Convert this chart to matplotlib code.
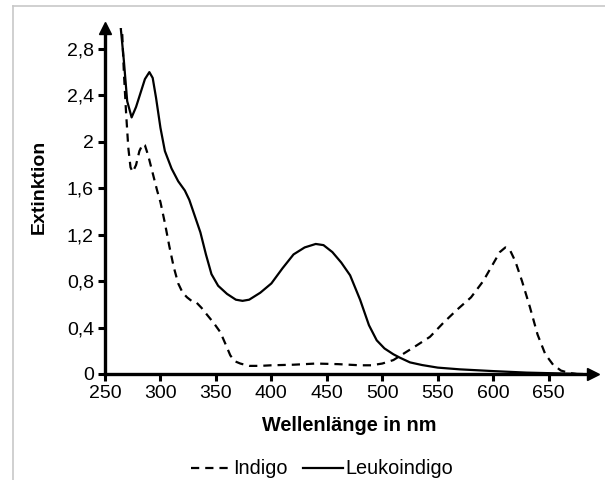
import matplotlib
matplotlib.use("Agg")
import matplotlib.pyplot as plt
from matplotlib.lines import Line2D

plt.rcParams['font.family'] = ['Liberation Sans', 'DejaVu Sans']

# Indigo (dashed)
indigo_nm = [265, 267, 269, 271, 273, 275, 278, 281, 284, 286, 289, 293, 297, 300,
             304, 308, 312, 316, 320, 324, 328, 332, 337, 342, 348, 354, 359, 363,
             367, 372, 380, 390, 400, 420, 440, 460, 480, 490, 500, 510, 520, 530,
             543, 555, 567, 580, 591, 600, 606, 611, 615, 620, 626, 633, 640, 647,
             654, 661, 668, 675]
indigo_ext = [3.05, 2.6, 2.25, 1.95, 1.78, 1.74, 1.80, 1.92, 1.98, 1.97, 1.88, 1.73,
              1.58, 1.48, 1.30, 1.10, 0.92, 0.78, 0.70, 0.66, 0.63, 0.62, 0.57, 0.51,
              0.44, 0.36, 0.25, 0.16, 0.11, 0.09, 0.07, 0.07, 0.075, 0.08, 0.09,
              0.085, 0.075, 0.075, 0.09, 0.12, 0.18, 0.24, 0.32, 0.44, 0.55, 0.66,
              0.80, 0.95, 1.05, 1.09, 1.07, 0.97, 0.80, 0.58, 0.34, 0.17, 0.08, 0.03,
              0.01, 0.0]

# Leukoindigo (solid)
leuko_nm = [263.5, 267, 270, 274, 278, 282, 286, 290, 293, 296, 300, 304, 310, 316,
            322, 326, 331, 336, 341, 346, 352, 360, 368, 374, 380, 390, 400, 410,
            420, 430, 440, 447, 455, 463, 471, 480, 488, 495, 502, 510, 516, 525,
            536, 550, 570, 600, 630, 660, 680]
leuko_ext = [3.05, 2.7, 2.35, 2.21, 2.30, 2.42, 2.54, 2.60, 2.55, 2.38, 2.12, 1.92,
             1.77, 1.66, 1.58, 1.50, 1.36, 1.22, 1.03, 0.86, 0.76, 0.69, 0.64, 0.63,
             0.64, 0.70, 0.78, 0.91, 1.03, 1.09, 1.12, 1.11, 1.05, 0.96, 0.85, 0.64,
             0.42, 0.29, 0.22, 0.17, 0.14, 0.10, 0.077, 0.055, 0.04, 0.025, 0.012,
             0.005, 0.0]

x_ticks = [250, 300, 350, 400, 450, 500, 550, 600, 650]
y_ticks = [0, 0.4, 0.8, 1.2, 1.6, 2.0, 2.4, 2.8]
y_tick_labels = ["0", "0,4", "0,8", "1,2", "1,6", "2", "2,4", "2,8"]

DASH = (0, (3.7, 2.7))

fig = plt.figure(figsize=(6.05, 4.8), dpi=100)
ax = fig.add_axes([105/605, 1-374/480, (593-105)/605, (374-28)/480])

ax.plot(indigo_nm, indigo_ext, color='black', lw=1.6, linestyle=DASH,
        label='Indigo')
ax.plot(leuko_nm, leuko_ext, color='black', lw=1.6, label='Leukoindigo')

ax.set_xlim(250, 690)
ax.set_ylim(0, 2.98)
ax.set_xticks(x_ticks)
ax.set_xticklabels([str(v) for v in x_ticks])
ax.set_yticks(y_ticks)
ax.set_yticklabels(y_tick_labels)

for s in ['top', 'right']:
    ax.spines[s].set_visible(False)
for s in ['left', 'bottom']:
    ax.spines[s].set_linewidth(2.4)
ax.tick_params(axis='both', direction='out', length=5, width=2.2,
               labelsize=14, colors='black', pad=3)

# arrowheads
ax.plot(1, 0, marker='>', color='black', markersize=9, transform=ax.transAxes,
        clip_on=False)
ax.plot(0, 1, marker='^', color='black', markersize=9, transform=ax.transAxes,
        clip_on=False)

ax.set_xlabel('Wellenlänge in nm', fontsize=14.3, fontweight='bold')
ax.xaxis.set_label_coords(0.5, -0.122)
ax.set_ylabel('Extinktion', fontsize=14, fontweight='bold')
ax.yaxis.set_label_coords(-0.118, 0.54)

handles = [Line2D([], [], color='black', lw=1.6, linestyle=DASH),
           Line2D([], [], color='black', lw=1.6)]
fig.legend(handles, ['Indigo', 'Leukoindigo'], loc='center',
           bbox_to_anchor=(322/605, 1-469/480), ncol=2, frameon=False,
           fontsize=14.3, handlelength=2.0, handletextpad=0.15, columnspacing=0.75,
           borderpad=0)

# outer chart border (left and top only visible)
fig.add_artist(Line2D([13/605, 13/605], [0, 1-6/480], color='#c8c8c8', lw=1.2,
                      transform=fig.transFigure))
fig.add_artist(Line2D([13/605, 1], [1-6/480, 1-6/480], color='#c8c8c8', lw=1.2,
                      transform=fig.transFigure))

fig.savefig('out.png', dpi=100)
